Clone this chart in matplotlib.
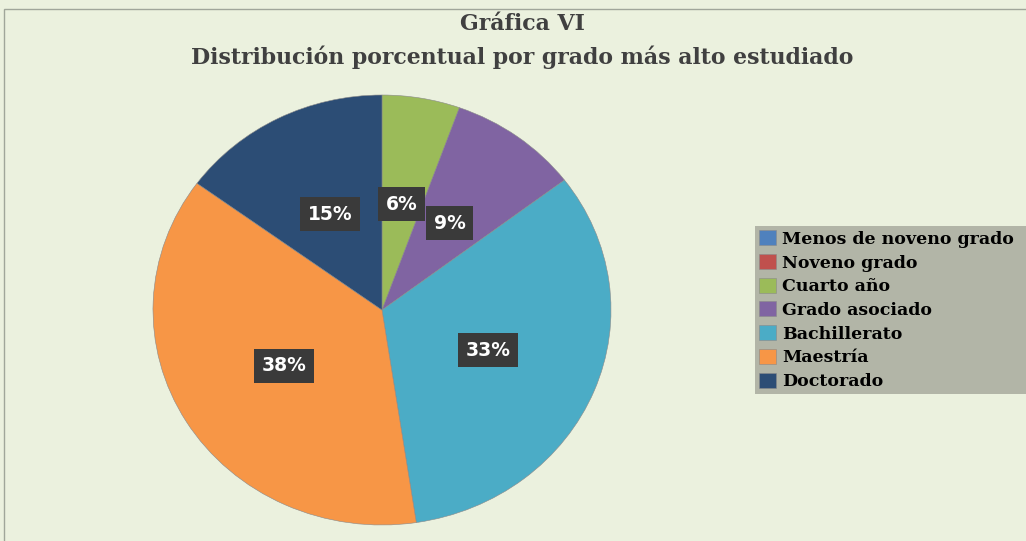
import matplotlib
matplotlib.use("Agg")
import matplotlib.pyplot as plt
from matplotlib.patches import Rectangle
import numpy as np

categories = ["Menos de noveno grado", "Noveno grado", "Cuarto año",
              "Grado asociado", "Bachillerato", "Maestría", "Doctorado"]
values = [0.0, 0.0, 5.5, 9.2, 33.0, 37.5, 15.0]
colors = ["#4F81BD", "#C0504D", "#9BBB59", "#8064A2", "#4BACC6", "#F79646", "#2C4D75"]
title1 = "Gráfica VI"
title2 = "Distribución porcentual por grado más alto estudiado"

W, H = 1026, 541
bg = "#EBF1DE"
fig = plt.figure(figsize=(W / 100, H / 100), dpi=100, facecolor=bg)

# chart border (cropped on right/bottom)
fig.add_artist(Rectangle((4 / W, -0.1), 1.2, 1 - 9 / H + 0.1, transform=fig.transFigure,
                         fill=False, edgecolor="#A0A69A", lw=1.0))

# pie axes (slightly elliptical pie)
cx, cy, rx, ry = 382, 310, 229, 215
L = 1.05
ax = fig.add_axes([(cx - rx * L) / W, (H - cy - ry * L) / H, 2 * rx * L / W, 2 * ry * L / H])
wedges, _ = ax.pie(values, colors=colors, startangle=90, counterclock=False, radius=1,
                   wedgeprops=dict(linewidth=0.4, edgecolor="#8a8a8a"))
ax.set_aspect("auto")
ax.set_xlim(-L, L)
ax.set_ylim(-L, L)
ax.axis("off")

for w, v in zip(wedges, values):
    if v <= 0:
        continue
    th = np.deg2rad((w.theta1 + w.theta2) / 2)
    ax.text(0.5 * np.cos(th), 0.5 * np.sin(th), f"{v:.0f}%", ha="center", va="center",
            color="white", fontsize=13.5, fontweight="bold", family="DejaVu Sans",
            bbox=dict(boxstyle="square,pad=0.4", facecolor="#3A3A3A", edgecolor="none"))

# titles
fig.text(522 / W, 1 - 24 / H, title1, ha="center", va="center", family="DejaVu Serif",
         fontweight="bold", fontsize=15.8, color="#404040")
fig.text(522 / W, 1 - 57 / H, title2, ha="center", va="center", family="DejaVu Serif",
         fontweight="bold", fontsize=15.8, color="#404040")

# legend
leg = fig.legend(wedges, categories, loc="upper left",
                 bbox_to_anchor=(755 / W, 1 - 226 / H - 0.5, 0.4, 0.5),
                 bbox_transform=fig.transFigure, mode="expand",
                 frameon=True, fancybox=False, framealpha=1, facecolor="#B2B5A7",
                 edgecolor="none", borderpad=0.25, borderaxespad=0,
                 handlelength=0.95, handleheight=0.95, handletextpad=0.35, labelspacing=0.36,
                 prop=dict(family="DejaVu Serif", weight="bold", size=12.5))
for t in leg.get_texts():
    t.set_color("black")

fig.savefig("out.png", dpi=100, facecolor=bg)
